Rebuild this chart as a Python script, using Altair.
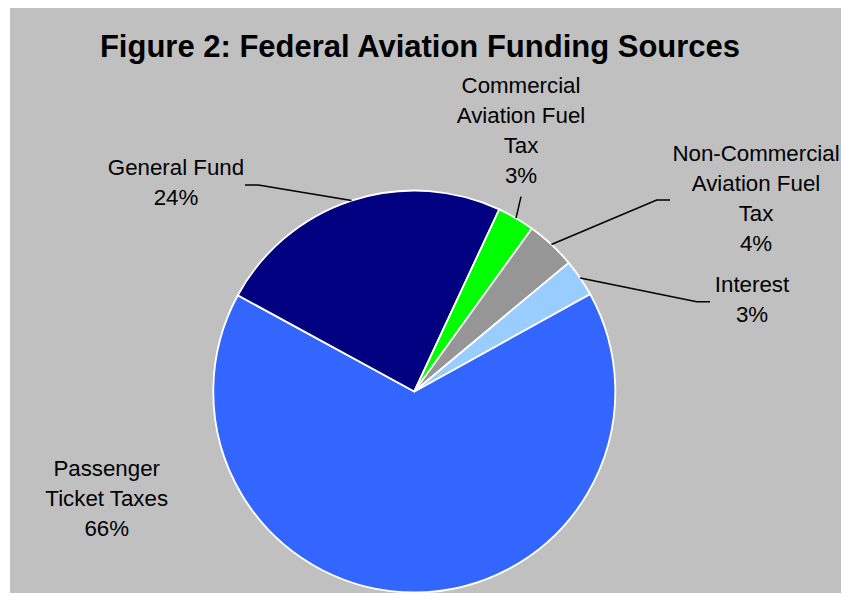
import math
import altair as alt
import pandas as pd

# ---------------- data ----------------
title_text = "Figure 2: Federal Aviation Funding Sources"
categories = [
    "Passenger Ticket Taxes",
    "General Fund",
    "Commercial Aviation Fuel Tax",
    "Non-Commercial Aviation Fuel Tax",
    "Interest",
]
shares = [66, 24, 3, 4, 3]
label_names = [
    ["Passenger", "Ticket Taxes"],
    ["General Fund"],
    ["Commercial", "Aviation Fuel", "Tax"],
    ["Non-Commercial", "Aviation Fuel", "Tax"],
    ["Interest"],
]
colors = ["#3366FF", "#000080", "#00FF00", "#969696", "#99CCFF"]

# ---------------- layout (styles / positions) ----------------
W, H = 831, 585
CX, CY, R = 404.3, 383.5, 201
START_DEG = 61.0
LINE_H = 30
LABEL_FS = 22.3
TITLE_FS = 31
# label anchor: centre x and first baseline (plot coords)
label_pos = [(96.7, 468), (166, 167), (511, 85.3), (746, 152.7), (742, 283.7)]
# leader attach points (before reaching the pie rim)
leader_pts = [
    [],
    [(235, 177), (248.3, 177)],
    [(511, 188.7)],
    [(660, 192), (646.7, 192)],
    [(700, 293.7), (686.7, 293.7)],
]

# ---------------- derived tables ----------------
total = sum(shares)
arc_df = pd.DataFrame({"category": categories, "share": shares, "idx": list(range(len(categories)))})

start = math.radians(START_DEG)
cum = 0.0
line_rows = []
for i, s in enumerate(shares):
    mid = start + 2 * math.pi * (cum + s / 2) / total
    cum += s
    if leader_pts[i]:
        pts = list(leader_pts[i]) + [(CX + R * math.sin(mid), CY - R * math.cos(mid))]
        for k, (px, py) in enumerate(pts):
            line_rows.append({"category": categories[i], "pt": k, "px": px, "py": py})
line_df = pd.DataFrame(line_rows)

text_rows = []
for i, names in enumerate(label_names):
    lines = names + [f"{shares[i]}%"]
    lx, ly = label_pos[i]
    for k, t in enumerate(lines):
        text_rows.append({"category": categories[i], "line": t, "px": lx, "py": ly + k * LINE_H})
text_df = pd.DataFrame(text_rows)

# ---------------- chart ----------------
pie = alt.Chart(arc_df).mark_arc(outerRadius=R, stroke="white", strokeWidth=1.8).encode(
    x=alt.value(CX),
    y=alt.value(CY),
    theta=alt.Theta("share:Q", stack=True, scale=alt.Scale(range=[start, start + 2 * math.pi])),
    color=alt.Color("category:N", scale=alt.Scale(domain=categories, range=colors), legend=None),
    order=alt.Order("idx:Q"),
)

leaders = alt.Chart(line_df).mark_line(color="black", strokeWidth=1.5).encode(
    x=alt.X("px:Q", scale=None, axis=None),
    y=alt.Y("py:Q", scale=None, axis=None),
    detail="category:N",
    order=alt.Order("pt:Q"),
)

labels = alt.Chart(text_df).mark_text(
    font="Liberation Sans", fontSize=LABEL_FS, color="black", align="center", baseline="alphabetic"
).encode(
    x=alt.X("px:Q", scale=None, axis=None),
    y=alt.Y("py:Q", scale=None, axis=None),
    text="line:N",
)

title = alt.Chart(pd.DataFrame({"t": [title_text]})).mark_text(
    font="Liberation Sans", fontSize=TITLE_FS, fontWeight="bold", color="black",
    align="center", baseline="alphabetic"
).encode(x=alt.value(410), y=alt.value(49.3), text="t:N")

chart = (
    alt.layer(pie, leaders, labels, title)
    .properties(
        width=W, height=H,
        autosize=alt.AutoSizeParams(type="none"),
        padding={"left": 2, "top": 0, "right": 0, "bottom": 0},
        background="white",
    )
    .configure_view(fill="#C0C0C0", strokeWidth=0)
)

chart.save("out.html", embed_options={"renderer": "svg", "actions": False})
